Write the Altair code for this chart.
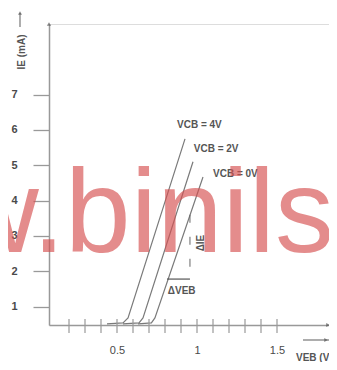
import altair as alt
import pandas as pd

# ---------------- data ----------------
series_names = ["VCB = 4V", "VCB = 2V", "VCB = 0V"]
veb_4v = [0.4375, 0.5375, 0.569, 0.925]
ie_4v = [0.51, 0.54, 0.68, 5.75]
veb_2v = [0.5375, 0.6375, 0.6625, 0.975]
ie_2v = [0.51, 0.54, 0.68, 5.10]
veb_0v = [0.631, 0.715, 0.737, 1.0375]
ie_0v = [0.51, 0.54, 0.68, 4.67]

x_tick_values = [0.2, 0.3, 0.4, 0.5, 0.6, 0.7, 0.8, 0.9, 1.0, 1.1, 1.2, 1.3, 1.4, 1.5]
x_label_values = [0.5, 1, 1.5]
y_label_values = [1, 2, 3, 4, 5, 6, 7]

# curve labels (data units)
label_v = [0.875, 0.98, 1.10]
label_i = [6.15, 5.47, 4.75]

# delta annotations (data units)
d_ie_v, d_ie_top, d_ie_bottom = 0.956, 3.6, 1.81
d_veb_left, d_veb_right, d_veb_i = 0.8125, 0.956, 1.78

watermark = "w.binils"

# ---------------- frames ----------------
rows = []
for name, xs, ys in zip(series_names, [veb_4v, veb_2v, veb_0v], [ie_4v, ie_2v, ie_0v]):
    for k, (a, b) in enumerate(zip(xs, ys)):
        rows.append({"series": name, "idx": k, "v": a, "i": b})
curves = pd.DataFrame(rows)
labels = pd.DataFrame({"v": label_v, "i": label_i, "t": series_names})
ticks = pd.DataFrame({"v": x_tick_values})

FONT = "Liberation Sans"
GRAY = "#999999"
LINE = "#7a7a7a"
TXT = "#4a4a4a"

xscale = alt.Scale(domain=[0.075, 1.825], nice=False, zero=False)
yscale = alt.Scale(domain=[0.48, 9.0], nice=False, zero=False)

xaxis = alt.Axis(values=x_label_values, labelExpr="datum.value + ''", grid=False,
                 tickSize=0, domainColor=GRAY, domainWidth=1.5, labelColor=TXT,
                 labelFontSize=11, labelFont=FONT, labelPadding=19, title=None)
yaxis = alt.Axis(values=y_label_values, labelExpr="datum.value + ''", grid=False,
                 tickSize=16, tickColor=GRAY, tickWidth=1.3, domainColor=GRAY,
                 domainWidth=1.5, labelColor=TXT, labelFontSize=11, labelFont=FONT,
                 labelFontWeight="bold", labelPadding=16, title=None)

lines = alt.Chart(curves).mark_line(color=LINE, strokeWidth=1.2).encode(
    x=alt.X("v:Q", scale=xscale, axis=xaxis),
    y=alt.Y("i:Q", scale=yscale, axis=yaxis),
    detail="series:N",
    order="idx:Q",
)

xticks = alt.Chart(ticks).mark_rule(color=GRAY, strokeWidth=1.2).encode(
    x=alt.X("v:Q", title=None), y=alt.value(295), y2=alt.value(309)
)

curve_labels = alt.Chart(labels).mark_text(
    align="left", baseline="middle", font=FONT, fontSize=10, fontWeight="bold", color="#555555"
).encode(x=alt.X("v:Q", title=None), y=alt.Y("i:Q", title=None), text="t:N")

d_ie = alt.Chart(pd.DataFrame({"v": [d_ie_v], "i": [d_ie_top], "i2": [d_ie_bottom]})).mark_rule(
    color="#666666", strokeWidth=1, strokeDash=[8, 14]
).encode(x=alt.X("v:Q", title=None), y=alt.Y("i:Q", title=None), y2="i2:Q")

d_veb = alt.Chart(pd.DataFrame({"v": [d_veb_left], "v2": [d_veb_right], "i": [d_veb_i]})).mark_rule(
    color="#555555", strokeWidth=1.2
).encode(x=alt.X("v:Q", title=None), x2="v2:Q", y=alt.Y("i:Q", title=None))

d_texts = pd.DataFrame({"v": [d_veb_left + 0.005], "i": [d_veb_i - 0.34], "t": ["ΔVEB"]})
d_veb_text = alt.Chart(d_texts).mark_text(
    align="left", baseline="middle", font=FONT, fontSize=10, fontWeight="bold", color="#555555"
).encode(x=alt.X("v:Q", title=None), y=alt.Y("i:Q", title=None), text="t:N")

d_ie_text = alt.Chart(pd.DataFrame({"v": [d_ie_v + 0.07], "i": [2.8], "t": ["ΔIE"]})).mark_text(
    align="center", baseline="middle", angle=270, font=FONT, fontSize=10, fontWeight="bold",
    color="#555555"
).encode(x=alt.X("v:Q", title=None), y=alt.Y("i:Q", title=None), text="t:N")

one = pd.DataFrame({"t": [""]})

y_arrow_tip = alt.Chart(one).mark_point(shape="triangle-up", filled=True, size=18, color="#555555").encode(
    x=alt.value(0), y=alt.value(0))
x_arrow_tip = alt.Chart(one).mark_point(shape="triangle-right", filled=True, size=18, color="#555555").encode(
    x=alt.value(279), y=alt.value(301))

ytitle_line = alt.Chart(one).mark_rule(color="#777777", strokeWidth=1.2).encode(
    x=alt.value(-29), y=alt.value(-11), y2=alt.value(3))
ytitle_tip = alt.Chart(one).mark_point(shape="triangle-up", filled=True, size=16, color="#555555").encode(
    x=alt.value(-29), y=alt.value(-11))
xtitle_line = alt.Chart(one).mark_rule(color="#777777", strokeWidth=1.2).encode(
    x=alt.value(254), x2=alt.value(283), y=alt.value(316))
xtitle_tip = alt.Chart(one).mark_point(shape="triangle-right", filled=True, size=16, color="#555555").encode(
    x=alt.value(277), y=alt.value(316))

ytitle = alt.Chart(pd.DataFrame({"t": ["IE (mA)"]})).mark_text(
    angle=270, align="center", baseline="middle", font=FONT, fontSize=10, fontWeight="bold",
    color="#555555"
).encode(x=alt.value(-27), y=alt.value(28), text="t:N")
xtitle = alt.Chart(pd.DataFrame({"t": ["VEB (V)"]})).mark_text(
    align="left", baseline="middle", font=FONT, fontSize=10, fontWeight="bold", color="#555555"
).encode(x=alt.value(247), y=alt.value(334), text="t:N")

wm = alt.Chart(pd.DataFrame({"t": [watermark]})).mark_text(
    align="right", baseline="alphabetic", font=FONT, fontSize=118, color="#d65050", opacity=0.65
).encode(x=alt.value(285), y=alt.value(228), text="t:N")

chart = alt.layer(
    lines, xticks, curve_labels, d_ie, d_veb, d_veb_text, d_ie_text,
    y_arrow_tip, x_arrow_tip, ytitle_line, ytitle_tip, xtitle_line, xtitle_tip,
    ytitle, xtitle, wm,
).properties(
    width=280, height=301,
    padding={"left": 41, "top": 16, "right": 0, "bottom": 37},
    autosize="none",
).configure_view(stroke=None).configure(background="white")

chart.save("out.html", embed_options={"renderer": "svg", "actions": False})
